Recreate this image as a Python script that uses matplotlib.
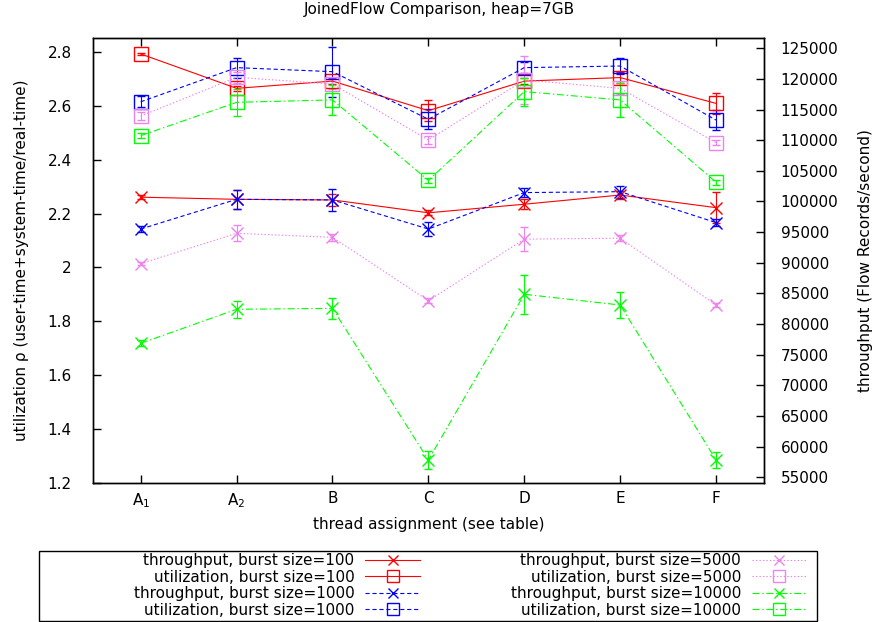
import matplotlib
matplotlib.use('Agg')
import matplotlib.pyplot as plt
from matplotlib.patches import Rectangle
from matplotlib.ticker import FormatStrFormatter

plt.rcParams['font.family'] = ['DejaVu Sans']
plt.rcParams['font.size'] = 11
plt.rcParams['mathtext.default'] = 'regular'
plt.rcParams['lines.scale_dashes'] = False

# thread assignments
categories = ['$A_1$', '$A_2$', 'B', 'C', 'D', 'E', 'F']

# utilization (left axis)
util_100 = [2.794, 2.666, 2.693, 2.583, 2.693, 2.706, 2.610]
util_100_err = [0.005, 0.01, 0.01, 0.04, 0.01, 0.02, 0.04]
util_1000 = [2.616, 2.743, 2.728, 2.551, 2.743, 2.749, 2.548]
util_1000_err = [0.02, 0.037, 0.093, 0.037, 0.02, 0.031, 0.037]
util_5000 = [2.563, 2.707, 2.682, 2.474, 2.697, 2.666, 2.464]
util_5000_err = [0.015, 0.02, 0.02, 0.015, 0.09, 0.02, 0.01]
util_10000 = [2.490, 2.614, 2.623, 2.324, 2.654, 2.623, 2.317]
util_10000_err = [0.01, 0.05, 0.056, 0.01, 0.052, 0.062, 0.01]

# throughput (right axis)
tp_100 = [100700, 100350, 100250, 98150, 99550, 101050, 98990]
tp_100_err = [300, 1600, 1000, 400, 800, 700, 2500]
tp_1000 = [95500, 100350, 100250, 95500, 101450, 101600, 96550]
tp_1000_err = [500, 1600, 1800, 1100, 800, 1000, 600]
tp_5000 = [89850, 94800, 94150, 83800, 93850, 94000, 83100]
tp_5000_err = [300, 1300, 600, 400, 2000, 500, 300]
tp_10000 = [76850, 82400, 82550, 57800, 84850, 83100, 57800]
tp_10000_err = [500, 1350, 1700, 1400, 3200, 2100, 1300]

bursts = ['100', '1000', '5000', '10000']
colors = ['#ff0000', '#0000ff', '#ee82ee', '#00ff00']
styles = ['-', (0, (3, 2)), (0, (1, 1.5)), (0, (5, 2, 1, 2))]
utils = [(util_100, util_100_err), (util_1000, util_1000_err),
         (util_5000, util_5000_err), (util_10000, util_10000_err)]
tps = [(tp_100, tp_100_err), (tp_1000, tp_1000_err),
       (tp_5000, tp_5000_err), (tp_10000, tp_10000_err)]

fig = plt.figure(figsize=(8.79, 6.22), dpi=100)
ax = fig.add_axes([0.1055, 0.224, 0.7637, 0.7144])
ax2 = ax.twinx()

x = list(range(len(categories)))
handles = []
labels = []
for i in range(4):
    t = ax2.errorbar(x, tps[i][0], yerr=tps[i][1], color=colors[i], ls=styles[i],
                     lw=0.8, marker='x', ms=8, mew=1, capsize=3, elinewidth=0.8,
                     capthick=0.8)
    u = ax.errorbar(x, utils[i][0], yerr=utils[i][1], color=colors[i], ls=styles[i],
                    lw=0.8, marker='s', ms=10, mfc='none', mew=1, capsize=3,
                    elinewidth=0.8, capthick=0.8)
    handles += [t[0], u[0]]
    labels += ['throughput, burst size=' + bursts[i],
               'utilization, burst size=' + bursts[i]]

ax.set_xlim(-0.5, 6.5)
ax.set_ylim(1.2, 2.852)
ax2.set_ylim(54100, 126630)
ax.set_xticks(x)
ax.set_xticklabels(categories)
ax.set_yticks([1.2, 1.4, 1.6, 1.8, 2.0, 2.2, 2.4, 2.6, 2.8])
ax.yaxis.set_major_formatter(FormatStrFormatter('%g'))
ax2.set_yticks(range(55000, 125001, 5000))

ax.tick_params(axis='x', direction='in', length=6, width=1, top=True, pad=6)
ax.tick_params(axis='y', direction='in', length=6, width=1, pad=15)
ax2.tick_params(axis='y', direction='in', length=6, width=1, pad=12)
for a in (ax, ax2):
    for s in a.spines.values():
        s.set_linewidth(1)

ax.set_xlabel('thread assignment (see table)')
ax.xaxis.set_label_coords(0.5, -0.078)
ax.set_ylabel('utilization ρ (user-time+system-time/real-time)')
ax.yaxis.set_label_coords(-0.095, 0.5)
ax2.set_ylabel('throughput (Flow Records/second)')
ax2.yaxis.set_label_coords(1.140, 0.5)
fig.text(0.5, 1 - 2 / 622, 'JoinedFlow Comparison, heap=7GB', ha='center', va='top')

fig.legend(handles, labels, ncol=2, loc='upper right',
           bbox_to_anchor=(807 / 879, 1 - 553 / 622), frameon=False,
           markerfirst=False, borderpad=0, borderaxespad=0, markerscale=0.9,
           handlelength=3.6, handletextpad=0.72, columnspacing=5.9,
           labelspacing=0.1)
fig.patches.append(Rectangle((39.3 / 879, 1 / 622), (816.7 - 39.3) / 879,
                             (622 - 550.7 - 1) / 622, transform=fig.transFigure,
                             fill=False, lw=1, ec='black'))

fig.savefig('out.png', dpi=100)
